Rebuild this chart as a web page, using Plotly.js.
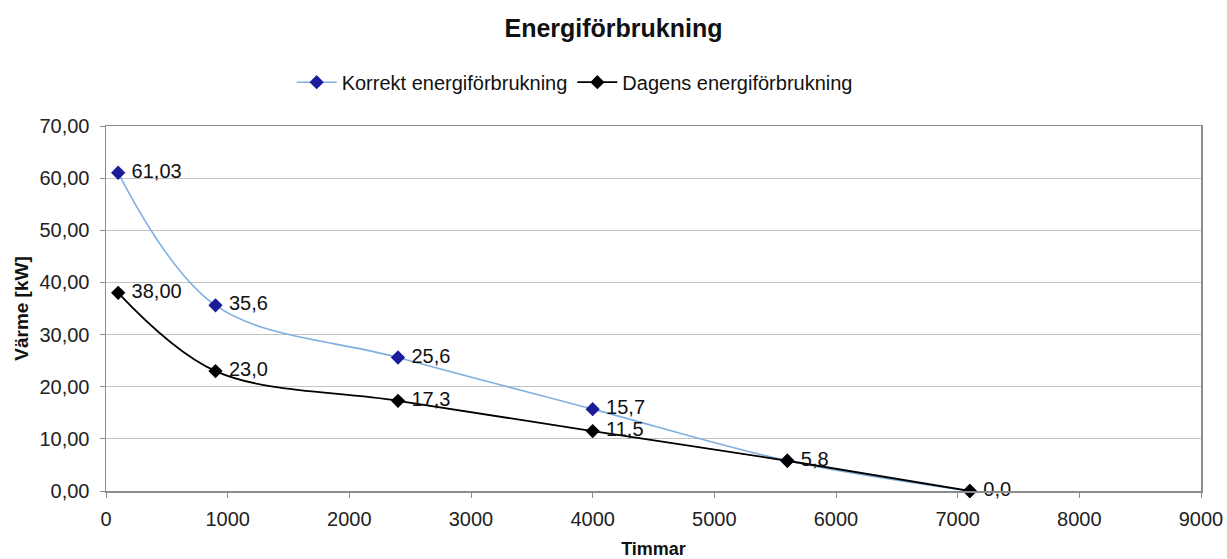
<!DOCTYPE html>
<html>
<head>
<meta charset="utf-8">
<script src="https://cdn.plot.ly/plotly-3.0.1.min.js"></script>
<style>
  html, body { margin: 0; padding: 0; background: #ffffff; }
  #chart { width: 1227px; height: 559px; }
</style>
</head>
<body>
<div id="chart"></div>
<script>
// Drifttimmar (x) och värmeeffekt i kW (y)
const hours = [100, 900, 2400, 4000, 5600, 7100];

const korrektValues = [61.03, 35.6, 25.6, 15.7, 5.8, 0.0];
const korrektLabels = ["61,03", "35,6", "25,6", "15,7", "", ""];

const dagensValues = [38.00, 23.0, 17.3, 11.5, 5.8, 0.0];
const dagensLabels = ["38,00", "23,0", "17,3", "11,5", "5,8", "0,0"];

const seriesNames = ["Korrekt energiförbrukning", "Dagens energiförbrukning"];

const font = "Liberation Sans, Arial, sans-serif";

const traces = [
  {
    x: hours,
    y: korrektValues,
    text: korrektLabels,
    texttemplate: "\u00a0%{text}",
    name: seriesNames[0],
    type: "scatter",
    mode: "lines+markers+text",
    textposition: "middle right",
    textfont: { family: font, size: 20, color: "#111111" },
    line: { color: "#7fb0e0", width: 1.6, shape: "spline", smoothing: 1 },
    marker: { symbol: "diamond", size: 11, color: "#1c1c9a" },
    cliponaxis: false
  },
  {
    x: hours,
    y: dagensValues,
    text: dagensLabels,
    texttemplate: "\u00a0%{text}",
    name: seriesNames[1],
    type: "scatter",
    mode: "lines+markers+text",
    textposition: "middle right",
    textfont: { family: font, size: 20, color: "#111111" },
    line: { color: "#000000", width: 1.8, shape: "spline", smoothing: 1 },
    marker: { symbol: "diamond", size: 11, color: "#000000" },
    cliponaxis: false
  }
];

const layout = {
  width: 1227,
  height: 559,
  margin: { l: 106, r: 26, t: 126, b: 68 },
  paper_bgcolor: "#ffffff",
  plot_bgcolor: "#ffffff",
  separators: ", ",
  font: { family: font, size: 18, color: "#222222" },
  title: {
    text: "<b>Energiförbrukning</b>",
    font: { family: font, size: 25, color: "#111111" },
    x: 0.5,
    xanchor: "center",
    y: 0.95,
    yanchor: "middle"
  },
  showlegend: true,
  legend: {
    orientation: "h",
    x: 0.428,
    xanchor: "center",
    y: 1.12,
    yanchor: "middle",
    font: { family: font, size: 20, color: "#111111" },
    itemwidth: 40,
    tracegroupgap: 0
  },
  xaxis: {
    range: [0, 9000],
    dtick: 1000,
    tick0: 0,
    tickformat: "d",
    showgrid: false,
    zeroline: false,
    showline: true,
    mirror: true,
    linecolor: "#8c8c8c",
    linewidth: 1.5,
    ticks: "outside",
    ticklen: 5,
    tickcolor: "#8c8c8c",
    ticklabelstandoff: 4,
    tickfont: { family: font, size: 20, color: "#222222" },
    title: {
      text: "<b>Timmar</b>",
      font: { family: font, size: 18, color: "#111111" },
      standoff: 15
    }
  },
  yaxis: {
    range: [0, 70],
    dtick: 10,
    tick0: 0,
    tickformat: ".2f",
    showgrid: true,
    gridcolor: "#c4c4c4",
    gridwidth: 1.2,
    zeroline: true,
    zerolinecolor: "#000000",
    zerolinewidth: 2,
    showline: true,
    mirror: true,
    linecolor: "#8c8c8c",
    linewidth: 1.5,
    ticks: "outside",
    ticklen: 5,
    tickcolor: "#8c8c8c",
    ticklabelstandoff: 6,
    tickfont: { family: font, size: 20, color: "#222222" },
    title: {
      text: "<b>Värme [kW]</b>",
      font: { family: font, size: 19, color: "#111111" },
      standoff: 6
    }
  }
};

Plotly.newPlot("chart", traces, layout, { displayModeBar: false, staticPlot: true });
</script>
</body>
</html>
